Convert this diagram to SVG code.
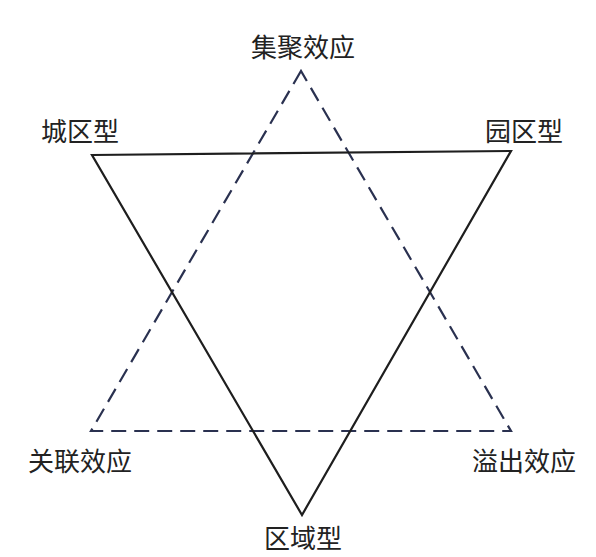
<svg xmlns="http://www.w3.org/2000/svg" width="596" height="557" viewBox="0 0 596 557">
<style>
.lbl{font-family:"Noto Sans CJK SC","Noto Sans",sans-serif;font-size:26px;fill:#222;text-anchor:middle}
.solid{fill:none;stroke:#1e1e1e;stroke-width:2.2;stroke-linejoin:miter}
.dash{fill:none;stroke:#2a3150;stroke-width:2.2;stroke-dasharray:15 8;stroke-linejoin:miter}
</style>
<rect width="596" height="557" fill="#fff"/>
<g id="connectors">
<polygon class="dash" points="301,71 91,431 511,431"/>
<polygon class="solid" points="92,155 511,151 302,515"/>
</g>
<g id="n-jiju"><text class="lbl" x="303" y="57">集聚效应</text></g>
<g id="n-chengqu"><text class="lbl" x="80" y="141">城区型</text></g>
<g id="n-yuanqu"><text class="lbl" x="524" y="141">园区型</text></g>
<g id="n-guanlian"><text class="lbl" x="80" y="471">关联效应</text></g>
<g id="n-yichu"><text class="lbl" x="524" y="471">溢出效应</text></g>
<g id="n-quyu"><text class="lbl" x="303" y="548">区域型</text></g>
</svg>
